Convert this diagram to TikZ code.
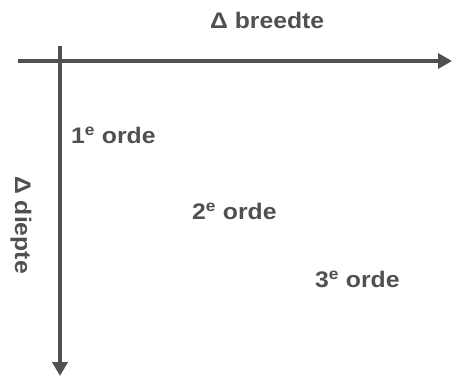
\documentclass[tikz,border=0pt]{standalone}
\usepackage{fontspec}
\setmainfont{Liberation Sans}[FakeStretch=1.1]
\usetikzlibrary{arrows.meta}
\definecolor{axisgray}{HTML}{505050}
\begin{document}
\begin{tikzpicture}[x=1pt,y=-1pt,
  axis/.style={draw=axisgray,line width=4pt,-{Triangle[length=14pt,width=15pt]}},
  lblfont/.style={text=axisgray,font=\fontsize{22.5}{26}\selectfont\bfseries,inner sep=0pt},
  lbl/.style={lblfont,anchor=base west}]
  \useasboundingbox (0,0) rectangle (452,376);
  % axes
  \coordinate (hs) at (18,61);
  \coordinate (he) at (452,61);
  \coordinate (vs) at (60,46);
  \coordinate (ve) at (60,376);
  \draw[axis] (hs) -- (he);
  \draw[axis] (vs) -- (ve);
  % axis labels
  \node[lbl] (breedte) at (210,28) {Δ breedte};
  \node[lblfont,rotate=-90] (diepte) at (21,225) {Δ diepte};
  % orders
  \node[lbl] (o1) at (71,143) {1\textsuperscript{e} orde};
  \node[lbl] (o2) at (192,219) {2\textsuperscript{e} orde};
  \node[lbl] (o3) at (315,287) {3\textsuperscript{e} orde};
\end{tikzpicture}
\end{document}
